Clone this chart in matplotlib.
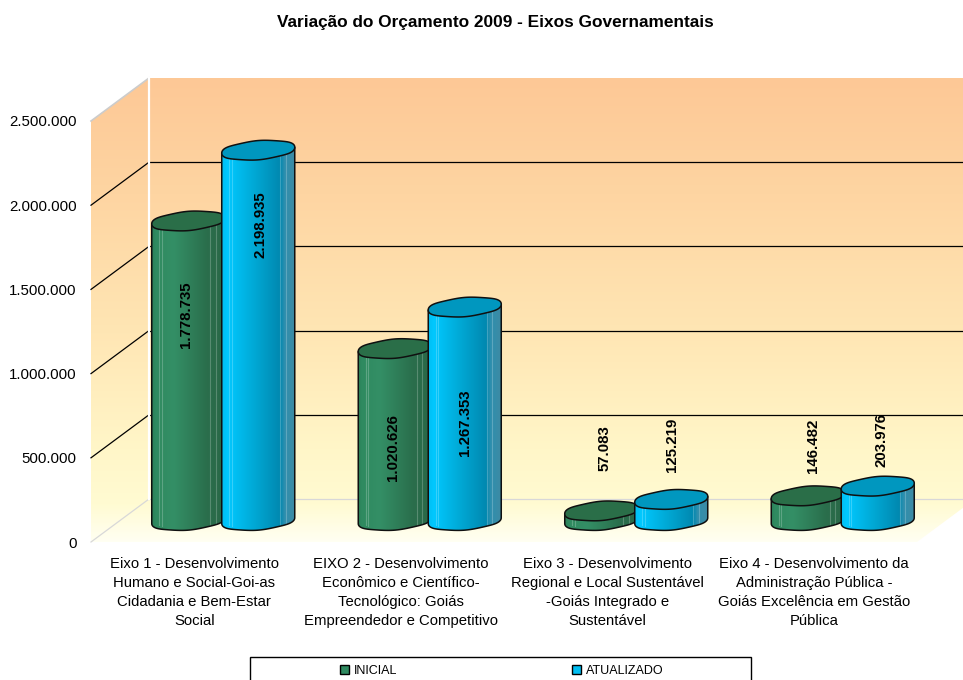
import numpy as np
import matplotlib
matplotlib.use('Agg')
import matplotlib.pyplot as plt
from matplotlib.patches import Polygon, Rectangle
from matplotlib.colors import to_rgb

plt.rcParams['font.family'] = ['Liberation Sans', 'DejaVu Sans']

categories = ['Eixo 1 - Desenvolvimento\nHumano e Social-Goi-as\nCidadania e Bem-Estar\nSocial',
              'EIXO 2 - Desenvolvimento\nEconômico e Científico-\nTecnológico: Goiás\nEmpreendedor e Competitivo',
              'Eixo 3 - Desenvolvimento\nRegional e Local Sustentável\n-Goiás Integrado e\nSustentável',
              'Eixo 4 - Desenvolvimento da\nAdministração Pública -\nGoiás Excelência em Gestão\nPública']
inicial = [1778735, 1020626, 57083, 146482]
atualizado = [2198935, 1267353, 125219, 203976]
yticks = [0, 500000, 1000000, 1500000, 2000000, 2500000]

W, H = 963, 680
fig = plt.figure(figsize=(W/100, H/100), dpi=100)
ax = fig.add_axes([91/W, 1-542/H, 826/W, 421/H])

# pixel -> data scale
sx = 4/826
sy = 2500000/421
dx = 58*sx      # depth of the 3d box
dy = 43*sy


def fmt(v):
    return f'{v:,}'.replace(',', '.')


def gradient_img(stops, cols, vertical=False):
    t = np.linspace(0, 1, 300)
    rgb = np.array([to_rgb(c) for c in cols])
    img = np.stack([np.interp(t, stops, rgb[:, k]) for k in range(3)], axis=-1)
    return img[:, None, :] if vertical else img[None, :, :]


# walls and floor, one gradient running over the whole box
wall = Polygon([(-0.5, 0), (-0.5, 2500000), (-0.5+dx, 2500000+dy), (3.5+dx, 2500000+dy),
                (3.5+dx, dy), (3.5, 0)], closed=True, transform=ax.transData, fc='none', ec='none')
ax.add_patch(wall)
wall.set_clip_on(False)
im = ax.imshow(gradient_img([0, 0.25, 0.55, 0.8, 0.92, 1],
                            ['#FDC896', '#FED5A2', '#FFE6B4', '#FFF6C8', '#FFFBD2', '#FFFFF2'], vertical=True),
               extent=[-0.5, 3.5+dx, 0, 2500000+dy], aspect='auto', origin='upper', zorder=1)
im.set_clip_box(fig.bbox)
im.set_clip_path(wall)

# grid lines
for v in yticks[:-1]:
    c = '#D8D8D8' if v == 0 else 'black'
    ax.plot([-0.5, -0.5+dx], [v, v+dy], color=c, lw=0.9, zorder=2, clip_on=False)
    ax.plot([-0.5+dx, 3.5+dx], [v+dy, v+dy], color=c, lw=0.9, zorder=2, clip_on=False)
ax.plot([-0.5, -0.5+dx], [2500000, 2500000+dy], color='#CCCCCC', lw=1.2, zorder=2, clip_on=False)
ax.plot([-0.5+dx, -0.5+dx], [dy, 2500000+dy], color='white', lw=1.6, zorder=2, clip_on=False)

green_stops = [0, 0.05, 0.3, 0.75, 1]
green_cols = ['#2C7F58', '#2F8A60', '#348F66', '#2A6E4C', '#2A6847']
blue_stops = [0, 0.08, 0.45, 0.8, 0.86, 1]
blue_cols = ['#00BEF2', '#00C8FF', '#00A8D4', '#0088B0', '#2E8FAE', '#3E8BA4']


def cylinder(xc, value, width, stops, cols, top_col, z):
    a = width/2/sx
    y0 = 0.5*dy
    y1 = y0+value
    t = np.linspace(0, 2*np.pi, 160)
    st = np.sin(t)
    ex = a*np.cos(t)*sx
    # full-ended ellipse leaning up to the right, outline a little uneven
    ey = (9.3*np.sign(st)*np.abs(st)**0.85+0.08*a*np.cos(t)+0.35*np.sin(5*t)*np.abs(st))*sy
    lower = t >= np.pi
    lx, ly = ex[lower], ey[lower]
    lean = 0.08*a*sy
    ord_x = np.concatenate([[xc-width/2], xc+lx, [xc+width/2]])
    ord_y = np.concatenate([[y1-lean], y0+ly, [y1+lean]])
    body = Polygon(np.column_stack([ord_x, ord_y]), closed=True, fc='none', ec='none',
                   transform=ax.transData, zorder=z)
    ax.add_patch(body)
    im = ax.imshow(gradient_img(stops, cols), extent=[xc-width/2, xc+width/2, y0-12*sy, y1+12*sy],
                   aspect='auto', zorder=z)
    im.set_clip_path(body)
    # pale facet lines on the body
    for f in [0.1, 0.14, 0.8, 0.88]:
        ax.plot([xc-width/2+f*width]*2, [y0-np.sqrt(max(1-(2*f-1)**2, 0))*8*sy, y1],
                color='white', alpha=0.22, lw=0.8, zorder=z)
    ax.plot(ord_x, ord_y, color='#101010', lw=1.1, zorder=z+0.1, solid_capstyle='round')
    ax.add_patch(Polygon(np.column_stack([xc+ex, y1+ey]), closed=True, fc=top_col, ec='#101010',
                         lw=1.1, zorder=z+0.2))


bar_w = 73*sx
gap = 70*sx
x = np.arange(len(categories))+0.5*dx
for i in range(len(categories)):
    cylinder(x[i]-gap/2, inicial[i], bar_w, green_stops, green_cols, '#2A6E48', 3+i*2)
    cylinder(x[i]+gap/2, atualizado[i], bar_w, blue_stops, blue_cols, '#0097BF', 4+i*2)

# value labels, shift from the top of each cylinder in px
ini_shift = [(-2, -94), (-2, -99), (3, 63), (5, 50)]
atu_shift = [(2, -74), (0, -116), (1, 55), (4, 46)]
for i in range(len(categories)):
    for xb, v, (ox, oy) in ((x[i]-gap/2, inicial[i], ini_shift[i]),
                            (x[i]+gap/2, atualizado[i], atu_shift[i])):
        ax.annotate(fmt(v), (xb, 0.5*dy+v), xytext=(ox*0.72, oy*0.72), textcoords='offset points',
                    rotation=90, ha='center', va='center', fontsize=10.8, fontweight='bold',
                    color='black', zorder=20, annotation_clip=False)

ax.set_xlim(-0.5, 3.5)
ax.set_ylim(0, 2500000)
for s in ax.spines.values():
    s.set_visible(False)
ax.patch.set_visible(False)
ax.set_yticks(yticks)
ax.set_yticklabels([fmt(v) for v in yticks], fontsize=10.8, va='center_baseline')
ax.set_xticks(range(len(categories)))
ax.set_xticklabels(categories, fontsize=10.7, linespacing=1.46)
ax.tick_params(axis='both', length=0)
ax.tick_params(axis='y', pad=10.5)
ax.tick_params(axis='x', pad=11)

fig.text(495/W, 1-22/H, 'Variação do Orçamento 2009 - Eixos Governamentais', ha='center', va='center',
         fontsize=12.4, fontweight='bold')

# legend, its box runs off the bottom of the picture
fig.patches.append(Rectangle((250/W, -0.02), 501/W, 0.02+23/H, transform=fig.transFigure,
                             fc='white', ec='black', lw=1, figure=fig))
h1 = Rectangle((0, 0), 1, 1, fc='#2F8A60', ec='black', lw=1)
h2 = Rectangle((0, 0), 1, 1, fc='#00BEF2', ec='black', lw=1)
fig.legend([h1, h2], ['INICIAL', 'ATUALIZADO'], ncol=2, frameon=False, loc='center',
           bbox_to_anchor=(502/W, 1-670.5/H), fontsize=9, handlelength=0.72, handleheight=0.72,
           handletextpad=0.4, columnspacing=14, borderpad=0, borderaxespad=0)

fig.savefig('out.png', dpi=100)
